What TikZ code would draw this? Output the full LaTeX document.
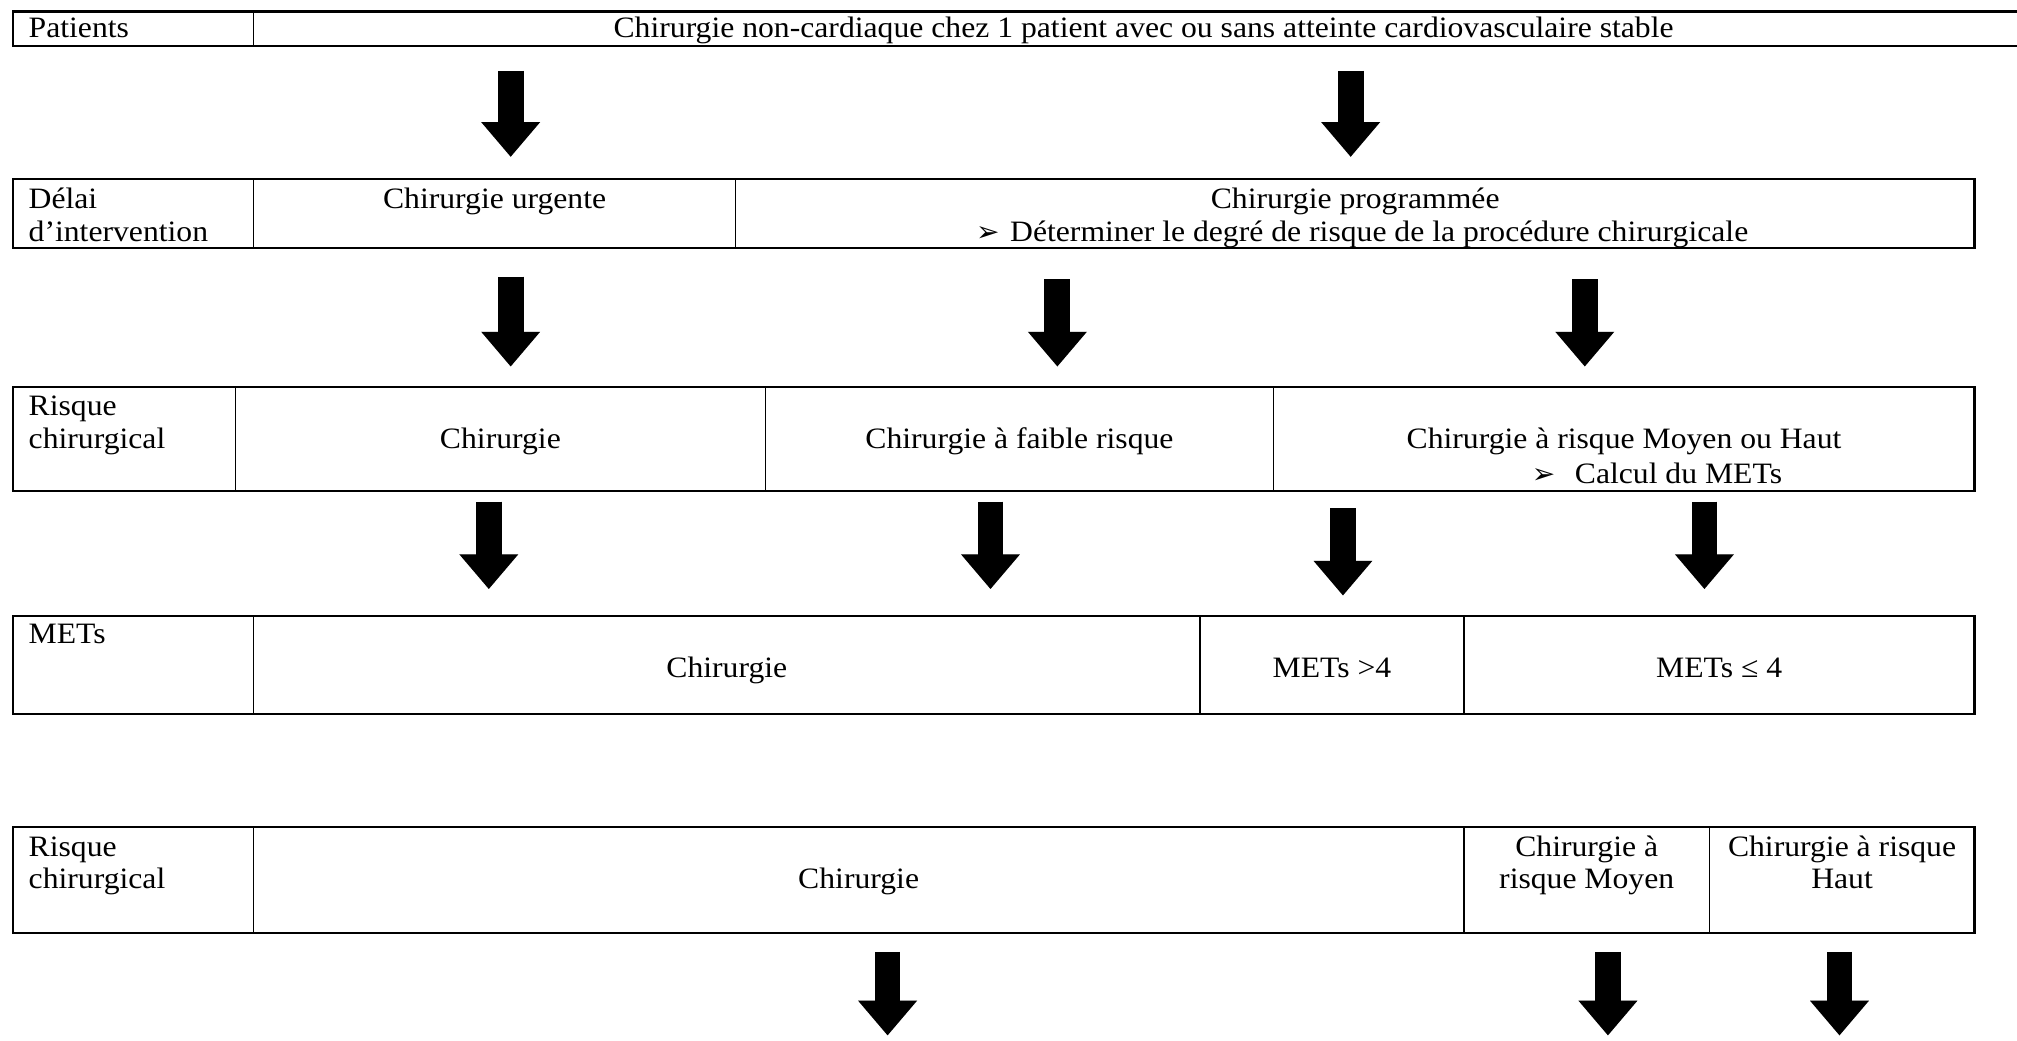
\documentclass[tikz,border=0pt]{standalone}
\usepackage{fontspec}
\setmainfont[FakeStretch=1.07]{Liberation Serif}
\newfontfamily\symfont{DejaVu Sans}
\usetikzlibrary{arrows.meta}
\begin{document}
\begin{tikzpicture}[x=0.6432pt,y=-0.6432pt,
  txt/.style={inner sep=0pt,font=\fontsize{14.8}{17}\selectfont},
  lbl/.style={txt,anchor=base west},
  ctr/.style={txt,anchor=base},
  bul/.style={inner sep=0pt,anchor=base,font=\symfont\fontsize{14}{16}\selectfont},
  outerline/.style={line width=1.1pt},
  innerline/.style={line width=0.7pt},
  bigarrow/.style={line width=12.9pt,-{Triangle[width=28.3pt,length=17.4pt]}},
  shadowarrow/.style={bigarrow,black!18,shift={(1.5,2)}},
]
\useasboundingbox[fill=white] (0,0) rectangle (1568,809);

% ---------- Row 1 ----------
\draw[innerline] (197,9) -- (197,36);
\draw[outerline] (1572,9) -- (10,9) -- (10,36) -- (1572,36);
\node[lbl] (p0) at (22,29.5) {Patients};
\node[ctr] (p1) at (889,29.5) {Chirurgie non-cardiaque chez 1 patient avec ou sans atteinte cardiovasculaire stable};

% ---------- Row 2 ----------
\draw[innerline] (197,139) -- (197,193) (572,139) -- (572,193);
\draw[outerline] (10,139) rectangle (1535,193);
\node[lbl] (d0a) at (22,162) {Délai};
\node[lbl] (d0b) at (22,188) {d’intervention};
\node[ctr] (d1) at (384.5,162) {Chirurgie urgente};
\node[ctr] (d2) at (1053.5,162) {Chirurgie programmée};
\node[bul] (d2b) at (768,188) {➢};
\node[lbl] (d2c) at (785,188) {Déterminer le degré de risque de la procédure chirurgicale};

% ---------- Row 3 ----------
\draw[innerline] (183,301) -- (183,382) (595,301) -- (595,382) (990,301) -- (990,382);
\draw[outerline] (10,301) rectangle (1535,382);
\node[lbl] (r0a) at (22,323) {Risque};
\node[lbl] (r0b) at (22,349) {chirurgical};
\node[ctr] (r1) at (389,349) {Chirurgie};
\node[ctr] (r2) at (792.5,349) {Chirurgie à faible risque};
\node[ctr] (r3) at (1262.5,349) {Chirurgie à risque Moyen ou Haut};
\node[bul] (r3b) at (1200,375.5) {➢};
\node[lbl] (r3c) at (1224,375.5) {Calcul du METs};

% ---------- Row 4 ----------
\draw[innerline] (197,479) -- (197,555) (933,479) -- (933,555) (1138,479) -- (1138,555);
\draw[outerline] (10,479) rectangle (1535,555);
\node[lbl] (m0) at (22,500) {METs};
\node[ctr] (m1) at (565,527) {Chirurgie};
\node[ctr] (m2) at (1035.5,527) {METs >4};
\node[ctr] (m3) at (1336.5,527) {METs ≤ 4};

% ---------- Row 5 ----------
\draw[innerline] (197,643) -- (197,725) (1138,643) -- (1138,725) (1329,643) -- (1329,725);
\draw[outerline] (10,643) rectangle (1535,725);
\node[lbl] (s0a) at (22,666) {Risque};
\node[lbl] (s0b) at (22,691) {chirurgical};
\node[ctr] (s1) at (667.5,691) {Chirurgie};
\node[ctr] (s2a) at (1233.5,666) {Chirurgie à};
\node[ctr] (s2b) at (1233.5,691) {risque Moyen};
\node[ctr] (s3a) at (1432,666) {Chirurgie à risque};
\node[ctr] (s3b) at (1432,691) {Haut};

% ---------- Arrows ----------
\foreach \n/\x/\ya/\yb in {a1/397/55/122, a2/1050/55/122,
  a3/397/215/285, a4/822/217/285, a5/1232/217/285,
  a6/380/390/458, a7/770/390/458, a8/1044/395/463, a9/1325/390/458,
  a10/690/740/805, a11/1250/740/805, a12/1430/740/805}{
  \coordinate (\n s) at (\x,\ya);
  \coordinate (\n e) at (\x,\yb);
  \draw[shadowarrow] (\n s) -- (\n e);
  \draw[bigarrow] (\n s) -- (\n e);
}
\end{tikzpicture}
\end{document}
